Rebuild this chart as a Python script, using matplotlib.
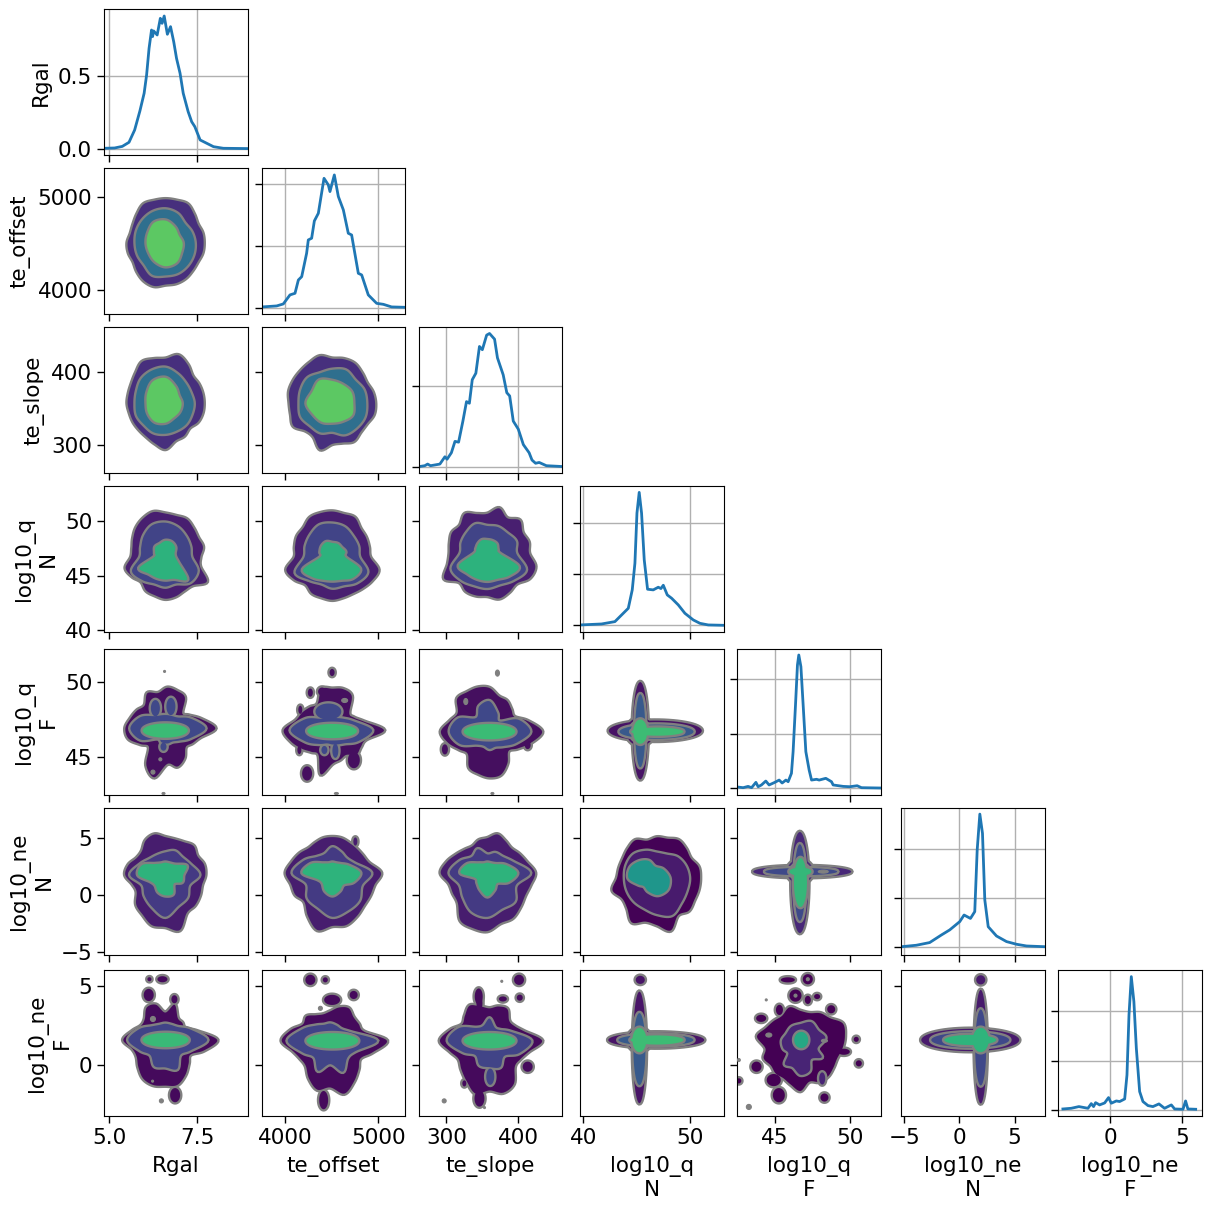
import numpy as np
import matplotlib
matplotlib.use('Agg')
import matplotlib.pyplot as plt

var_labels = ['Rgal', 'te_offset', 'te_slope', 'log10_q\nN', 'log10_q\nF', 'log10_ne\nN', 'log10_ne\nF']

# axis ranges and ticks per variable
x_limits = [(4.85, 8.94), (3749, 5287), (262, 460.7), (39.7, 53.15), (42.5, 52.1), (-5.3, 7.76), (-3.63, 6.37)]
y_limits = [None, (3743, 5308), (262, 462), (39.8, 53.26), (42.5, 52.2), (-5.29, 7.65), (-3.18, 6.0)]
x_ticks = [[5.0, 7.5], [4000, 5000], [300, 400], [40, 50], [45, 50], [-5, 0, 5], [0, 5]]
y_ticks = [[0.0, 0.5], [4000, 5000], [300, 400], [40, 45, 50], [45, 50], [-5, 0, 5], [0, 5]]
x_ticklabels = [['5.0', '7.5'], ['4000', '5000'], ['300', '400'], ['40', '50'], ['45', '50'], ['\u22125', '0', '5'], ['0', '5']]
y_ticklabels = [['0.0', '0.5'], ['4000', '5000'], ['300', '400'], ['40', '45', '50'], ['45', '50'], ['\u22125', '0', '5'], ['0', '5']]

# marginal densities on the diagonal
diag_ylim = [(-0.039, 0.961), (-0.046e-3, 1.131e-3), (-0.0007, 0.0173), (-0.0131, 0.2726), (-0.061, 1.278), (-0.033, 0.57), (-0.058, 1.417)]
diag_yticks = [[0, 0.5], [0, 0.0005, 0.001], [0, 0.01], [0, 0.1, 0.2], [0, 0.5, 1], [0, 0.2, 0.4], [0, 0.5, 1]]

rgal_x = [4.86, 5.15, 5.37, 5.56, 5.72, 5.87, 5.99, 6.06, 6.13, 6.2, 6.23, 6.26, 6.36, 6.45, 6.5, 6.56, 6.65, 6.74, 6.83, 6.91, 7.01, 7.1, 7.24, 7.34, 7.43, 7.58, 7.77, 7.96, 8.24, 8.94]
rgal_y = [.007, .009, .02, .048, .132, .263, .384, .509, .692, .817, .772, .811, .783, .897, .863, .913, .788, .84, .737, .623, .521, .384, .258, .189, .155, .064, .041, .018, .007, .005]
offset_x = [3749, 3907, 3978, 4050, 4104, 4140, 4176, 4229, 4247, 4283, 4312, 4355, 4384, 4416, 4462, 4480, 4527, 4570, 4624, 4677, 4713, 4785, 4821, 4892, 4982, 5054, 5143, 5287]
offset_y = [.011e-3, .019e-3, .035e-3, .108e-3, .121e-3, .228e-3, .255e-3, .444e-3, .551e-3, .565e-3, .704e-3, .766e-3, .901e-3, 1.048e-3, .995e-3, .941e-3, 1.075e-3, .901e-3, .793e-3, .605e-3, .591e-3, .282e-3, .269e-3, .108e-3, .04e-3, .032e-3, .011e-3, .008e-3]
slope_x = [263, 270, 274, 278, 291, 298, 301, 307, 312, 317, 323, 328, 332, 336, 341, 346, 350, 356, 360, 367, 371, 379, 384, 388, 393, 400, 407, 415, 419, 424, 429, 439, 460.7]
slope_y = [.0001, .0002, .0004, .0002, .0004, .0013, .001, .0018, .0032, .0031, .0057, .0081, .0079, .0108, .0116, .0149, .0145, .0163, .0165, .0158, .0135, .0114, .0092, .0088, .0057, .0047, .0028, .0018, .0009, .0005, .0006, .0002, .0001]
qn_x = [39.7, 41.71, 42.96, 43.74, 44.21, 44.58, 44.83, 45.02, 45.23, 45.45, 45.7, 46.01, 46.54, 47.01, 47.26, 47.48, 47.85, 48.26, 48.88, 49.5, 50.28, 50.9, 51.68, 53.15]
qn_y = [.0007, .0026, .0072, .0235, .0333, .0693, .1216, .2196, .2601, .2196, .1281, .0706, .0693, .0745, .0719, .0784, .0595, .0529, .0399, .0235, .0105, .0039, .0007, 0]
qf_x = [42.56, 42.91, 43.24, 43.47, 43.76, 43.91, 44.13, 44.42, 44.64, 45.02, 45.31, 45.51, 45.76, 45.91, 46.13, 46.24, 46.4, 46.53, 46.62, 46.76, 46.91, 47.09, 47.31, 47.47, 47.8, 47.98, 48.42, 48.8, 48.91, 49.58, 50.02, 50.51, 50.8, 52.1]
qf_y = [.012, .006, .018, .006, .055, .015, .031, .067, .031, .055, .076, .049, .076, .061, .138, .336, .765, 1.131, 1.223, 1.116, .765, .336, .168, .076, .083, .076, .092, .061, .031, .018, .015, .024, .006, .003]
nen_x = [-5.27, -3.91, -2.7, -1.64, -.88, .03, .42, 1, 1.39, 1.61, 1.85, 2.09, 2.3, 2.61, 3.36, 4.27, 5.18, 6.09, 7.76]
nen_y = [.001, .007, .018, .049, .07, .104, .131, .117, .145, .398, .545, .466, .193, .083, .045, .022, .011, .004, .001]
nef_x = [-3.29, -2.71, -2.18, -1.55, -1.32, -1.16, -1.02, -.74, -.39, -.12, .07, .42, .65, 1, 1.16, 1.3, 1.46, 1.64, 1.81, 2.04, 2.27, 2.62, 2.96, 3.38, 3.77, 4.24, 4.47, 5.05, 5.23, 5.39, 5.93]
nef_y = [.013, .02, .037, .02, .067, .037, .077, .054, .074, .128, .071, .094, .088, .114, .357, .963, 1.35, 1.098, .626, .189, .088, .047, .037, .064, .02, .054, .013, .01, .094, .013, .01]
diag_x = [rgal_x, offset_x, slope_x, qn_x, qf_x, nen_x, nef_x]
diag_y = [rgal_y, offset_y, slope_y, qn_y, qf_y, nen_y, nef_y]

# contour outlines: centre x, centre y, radii going round from east, counter clockwise
# radii are in 1/144 of the axis range
contours = {
    (1, 0): [(6.6, 4505, [38, 38, 37, 40, 44, 43, 43, 43, 44, 40, 37, 36, 38, 38, 37, 40, 43, 44, 41, 41, 40, 38, 37, 38]),
             (6.6, 4505, [29, 28, 27, 31, 33, 33, 32, 31, 30, 30, 30, 34, 32, 32, 31, 30]),
             (6.6, 4505, [17, 15, 18, 22, 23, 20, 19, 19, 21, 23, 22, 18])],
    (2, 0): [(6.6, 357.5, [38, 38, 38, 38, 44, 49, 44, 45, 47, 42, 39, 38, 38, 37, 37, 37, 38, 41, 45, 38, 37, 34, 37, 38]),
             (6.6, 357.5, [28, 27, 28, 31, 35, 35, 34, 31, 30, 31, 30, 31, 30, 29, 29, 28]),
             (6.6, 357.5, [16, 15, 19, 25, 25, 21, 19, 20, 21, 19, 16, 16])],
    (2, 1): [(4506, 357.5, [43, 42, 40, 42, 45, 45, 44, 48, 46, 45, 45, 45, 43, 43, 45, 38, 38, 47, 40, 40, 43, 40, 40, 43]),
             (4506, 357.5, [34, 34, 32, 35, 33, 32, 35, 34, 33, 34, 31, 31, 28, 33, 34, 35]),
             (4506, 357.5, [21, 22, 21, 22, 26, 23, 26, 22, 21, 19, 20, 23])],
    (3, 0): [(6.59, 46.7, [35, 39, 38, 40, 43, 42, 43, 46, 44, 41, 37, 34, 34, 41, 38, 34, 38, 39, 41, 40, 38, 39, 48, 36]),
             (6.59, 46.7, [26, 27, 29, 32, 34, 34, 30, 26, 25, 36, 32, 28, 29, 28, 35, 35]),
             (6.59, 46.7, [10, 10, 14, 16, 16, 14, 14, 11, 11, 28, 23, 22, 22, 23, 31, 14])],
    (3, 1): [(4506, 46.7, [38, 38, 39, 40, 45, 44, 45, 45, 45, 41, 41, 39, 38, 48, 44, 38, 41, 41, 42, 41, 41, 43, 46, 48]),
             (4506, 46.7, [27, 28, 29, 32, 33, 34, 31, 29, 28, 40, 32, 28, 30, 30, 35, 38]),
             (4506, 46.7, [13, 14, 13, 14, 14, 16, 15, 13, 12, 32, 28, 24, 23, 24, 29, 30])],
    (3, 2): [(357, 47.05, [42, 43, 41, 46, 40, 46, 39, 40, 45, 39, 41, 39, 38, 41, 50, 40, 43, 43, 42, 46, 44, 42, 49, 50]),
             (357, 47.05, [29, 31, 28, 28, 27, 31, 29, 28, 27, 39, 37, 34, 34, 33, 37, 42]),
             (357, 47.05, [12, 11, 13, 13, 13, 14, 13, 12, 13, 31, 28, 27, 27, 27, 31, 34])],
    (4, 0): [(6.65, 46.93, [48, 35, 25, 21, 35, 38, 40, 36, 40, 32, 35, 38, 42, 40, 31, 26, 42, 50, 35, 39, 34, 26, 29, 34]),
             (6.65, 46.93, [38, 25, 15, 13, 13, 14, 17, 29, 37, 29, 14, 15, 15, 14, 17, 25])],
    (4, 1): [(4506, 46.8, [52, 33, 25, 24, 39, 42, 41, 42, 30, 32, 35, 38, 49, 43, 36, 30, 28, 45, 33, 30, 28, 34, 33, 35]),
             (4506, 46.8, [40, 23, 16, 13, 12, 13, 16, 29, 42, 29, 19, 14, 14, 15, 18, 28])],
    (4, 2): [(360, 46.71, [53, 40, 29, 31, 35, 36, 43, 45, 45, 46, 37, 41, 49, 43, 35, 31, 41, 43, 45, 44, 36, 27, 33, 43]),
             (360, 46.71, [41, 31, 14, 20, 30, 27, 19, 34, 40, 32, 18, 15, 17, 16, 20, 29])],
    (5, 0): [(6.59, 1.76, [40, 40, 37, 40, 37, 36, 37, 41, 39, 33, 33, 38, 40, 34, 33, 41, 45, 51, 51, 56, 43, 42, 40, 38]),
             (6.59, 1.76, [34, 27, 24, 25, 22, 21, 22, 27, 35, 25, 29, 34, 41, 33, 31, 26]),
             (6.59, 1.76, [18, 23, 14, 12, 12, 12, 15, 25, 27, 16, 14, 18, 20, 20, 12, 18])],
    (5, 1): [(4506, 1.94, [49, 38, 35, 34, 34, 35, 35, 35, 34, 34, 38, 42, 47, 43, 43, 40, 49, 58, 52, 53, 49, 45, 44, 44]),
             (4506, 1.94, [39, 24, 20, 22, 25, 20, 22, 31, 40, 28, 35, 37, 43, 40, 38, 32]),
             (4506, 1.94, [28, 18, 12, 10, 10, 10, 13, 23, 30, 16, 14, 19, 22, 19, 16, 23])],
    (5, 2): [(357, 1.94, [48, 41, 37, 34, 36, 39, 34, 33, 30, 32, 36, 42, 47, 40, 40, 42, 54, 56, 57, 51, 51, 47, 44, 45]),
             (357, 1.94, [43, 28, 22, 21, 18, 25, 22, 30, 38, 30, 34, 41, 43, 38, 39, 31]),
             (357, 1.94, [30, 20, 12, 10, 10, 10, 13, 22, 27, 13, 14, 18, 23, 18, 14, 23])],
    (5, 3): [(46.89, 1.47, [43, 43, 39, 41, 43, 40, 40, 38, 43, 41, 39, 39, 40, 46, 40, 42, 50, 44, 46, 53, 42, 45, 43, 43]),
             (46.89, 1.47, [32, 31, 29, 25, 25, 29, 33, 33, 32, 32, 32, 32, 35, 39, 34, 32]),
             (46.1, 1.47, [21, 17, 13, 17, 19, 21, 20, 12, 9, 13, 19, 22])],
    (6, 0): [(6.59, 1.6, [52, 33, 23, 24, 25, 36, 27, 36, 37, 29, 28, 34, 42, 34, 33, 38, 44, 46, 45, 46, 40, 33, 29, 40]),
             (6.59, 1.6, [42, 27, 18, 16, 16, 16, 19, 28, 37, 27, 21, 28, 27, 31, 21, 27])],
    (6, 1): [(4484, 1.55, [57, 35, 33, 33, 37, 34, 29, 27, 29, 34, 32, 41, 49, 39, 35, 35, 43, 50, 46, 54, 47, 40, 35, 44]),
             (4484, 1.55, [47, 22, 16, 16, 17, 17, 21, 30, 43, 30, 23, 32, 23, 33, 24, 27])],
    (6, 2): [(360, 1.55, [53, 36, 29, 28, 36, 35, 32, 35, 40, 35, 32, 41, 50, 41, 36, 40, 46, 54, 49, 53, 49, 36, 36, 41]),
             (360, 1.55, [42, 23, 15, 14, 22, 16, 18, 33, 42, 29, 20, 26, 26, 28, 21, 32])],
    (6, 4): [(46.73, 1.07, [42, 46, 49, 42, 40, 36, 37, 42, 37, 38, 40, 45, 35, 38, 34, 35, 34, 37, 42, 34, 38, 39, 38, 38]),
             (46.73, 1.07, [17, 27, 25, 28, 24, 23, 20, 20, 17, 13, 22, 20, 26, 24, 15, 23])],
}

# extra elliptical pieces of a contour: x, y, half width, half height, level (3 is a grey dot)
pieces = {
    (4, 0): [(6.57, 50.71, 1, 1, 3), (6.54, 42.6, 1.5, 1, 3), (6.45, 44.87, 1.5, 1.5, 3), (6.24, 44.02, 2, 2, 3),
             (6.31, 48.27, 4.5, 8, 1), (6.75, 48.38, 4.5, 8.5, 1), (6.54, 45.71, 3, 4, 1), (6.59, 46.78, 22.5, 7, 2)],
    (4, 1): [(4503, 50.64, 2.5, 3.5, 0), (4234, 43.93, 5, 7, 0), (4549, 42.6, 2, 1, 3), (4269, 49.3, 2.5, 4, 0),
             (4395, 49.37, 4, 4, 0), (4161, 48.16, 2, 4, 0), (4151, 45.49, 2, 4, 0), (4737, 44.82, 6, 8, 0),
             (4638, 48.78, 3, 2, 3), (4463, 48.04, 13, 8, 1), (4538, 45.44, 3, 7, 1), (4420, 45.49, 3, 4, 1),
             (4503, 46.75, 25, 7, 2)],
    (4, 2): [(371, 50.6, 2, 3, 3), (327, 48.71, 2, 3, 3), (298, 45.53, 3, 5, 0), (364, 42.6, 1.5, 1, 3), (413, 45.82, 3, 4, 0),
             (360, 46.71, 26, 7.5, 2)],
    (4, 3): [(46.73, 46.77, 46.5, 10, 0), (45.33, 46.77, 7.5, 48, 0), (45.33, 46.71, 14, 14, 0),
             (46.85, 46.71, 37, 7, 1), (45.33, 46.77, 5, 36, 1), (45.33, 46.71, 10, 10, 1),
             (46.92, 46.71, 26, 4, 2), (45.33, 46.71, 7, 12, 2)],
    (5, 1): [(4753, 4.7, 2, 4, 0)],
    (5, 4): [(46.85, 2.05, 49, 5.5, 0), (46.69, 1.09, 8.5, 49.5, 0), (46.7, 2.05, 13, 12, 0),
             (46.78, 2.05, 36, 3.5, 1), (46.69, 1.09, 5.5, 37.5, 1), (46.7, 2.05, 9, 8, 1),
             (46.73, 1.09, 6.5, 24, 2), (46.73, 2.05, 11, 4, 2), (48.25, 2.05, 5, 1.5, 3)],
    (6, 0): [(6.51, 5.42, 5, 3, 0), (6.14, 5.42, 2, 2, 0), (6.12, 4.43, 5, 6, 0), (6.85, 4.16, 3, 4, 0), (6.24, 2.92, 2.5, 2.5, 3),
             (6.87, -1.87, 5, 7, 0), (6.48, -2.23, 2, 2, 3), (6.23, -0.99, 1, 1, 3), (6.6, 1.6, 23, 7, 2)],
    (6, 1): [(4412, -2.18, 4.5, 9, 0), (4269, 5.38, 5, 5, 0), (4430, 5.38, 2.5, 2.5, 0), (4503, 4.12, 8, 5, 0), (4377, 3.59, 2, 2, 3),
             (4735, 4.43, 4, 4, 0), (4506, 1.55, 26, 7.5, 2)],
    (6, 2): [(361, -0.71, 4, 8, 1), (401, 5.38, 5, 5, 0), (377, 5.29, 1, 1, 3), (402, 4.26, 3, 3, 0), (378.5, 4.18, 4, 2.5, 0),
             (345, 4.33, 4, 8, 0), (346, 3.9, 3, 8, 0), (413, -0.08, 5, 5, 0), (325, -1.13, 2, 3, 0), (297, -2.23, 2, 2, 3),
             (353, -2.65, 1, 1, 3), (346, -2.08, 5, 8, 0), (360, 1.55, 26, 7.5, 2)],
    (6, 3): [(46.82, 1.6, 48, 7.5, 0), (45.25, 1.13, 6.5, 55, 0), (45.25, 1.6, 12, 12, 0), (45.33, 5.38, 4.5, 4, 0),
             (46.79, 1.6, 37.5, 5.5, 1), (45.25, 1.03, 6, 35.5, 1), (45.25, 1.6, 9, 9, 1),
             (46.89, 1.6, 26.5, 4.5, 2), (45.25, 1.6, 7, 12, 2)],
    (6, 4): [(45.89, 5.38, 7, 2.5, 0), (47.22, 5.42, 5, 5, 0), (47.22, 5.42, 1.5, 1.5, 3), (46.4, 4.39, 6, 6, 0), (46.4, 4.39, 1.5, 1.5, 3),
             (47.22, 4.12, 3, 4, 0), (47.84, 4.33, 3, 2.5, 0), (44.45, 4.12, 1, 1, 3), (45.33, 3.49, 3.5, 5, 0), (44.11, 2.96, 5, 3.5, 0),
             (48.78, 3.53, 4, 4, 0), (50.45, 1.64, 2.5, 2.5, 0), (49.62, 0.86, 6, 3, 0), (50.62, 0.13, 3, 3, 0), (43.8, -0.08, 5, 5, 0),
             (42.62, -0.97, 2.5, 2.5, 0), (42.62, 0.34, 1.5, 1.5, 3), (45.29, -1.87, 6, 7, 0), (48.33, -2.02, 4, 4, 0), (43.29, -2.61, 2.5, 2.5, 3),
             (44.95, -0.92, 7, 6, 0), (48.18, -0.82, 3, 6, 1), (44.62, 1.91, 3, 2, 3), (48.33, 1.55, 3, 1.5, 3),
             (46.78, 1.6, 7, 8, 2)],
    (6, 5): [(.98, 1.6, 49, 11, 0), (1.93, 1.18, 6, 56, 0), (1.93, 1.6, 12, 13, 0), (1.93, 5.38, 4.5, 4.5, 0),
             (.98, 1.6, 39, 7.5, 1), (1.93, 1.13, 5.5, 37.5, 1), (1.93, 1.6, 9, 11, 1),
             (.98, 1.6, 26, 5, 2), (1.93, 1.6, 8, 12, 2)],
}

level_colors = {
    (1, 0): ['#472f7d', '#2f6f8e', '#5cc863'], (2, 0): ['#472f7d', '#2f6f8e', '#5cc863'], (2, 1): ['#472f7d', '#2f6f8e', '#5cc863'],
    (3, 0): ['#481f70', '#414487', '#2db27d'], (3, 1): ['#481f70', '#414487', '#2db27d'], (3, 2): ['#481f70', '#414487', '#2db27d'],
    (4, 0): ['#450f5f', '#3f4889', '#3bbb75'], (4, 1): ['#450f5f', '#3f4889', '#3bbb75'], (4, 2): ['#450f5f', '#3f4889', '#3bbb75'],
    (4, 3): ['#471365', '#38598c', '#3dbc74'],
    (5, 0): ['#471d6e', '#443a83', '#2eb37c'], (5, 1): ['#471d6e', '#443a83', '#2eb37c'], (5, 2): ['#471d6e', '#443a83', '#2eb37c'],
    (5, 3): ['#440256', '#481b6d', '#1f968b'], (5, 4): ['#482878', '#3e4989', '#35b779'],
    (6, 0): ['#450a5c', '#414487', '#3ab977'], (6, 1): ['#450a5c', '#414487', '#3ab977'], (6, 2): ['#450a5c', '#414487', '#3ab977'],
    (6, 3): ['#481467', '#375a8c', '#3dbc74'], (6, 4): ['#440154', '#482475', '#26a884'], (6, 5): ['#481a6c', '#3f4889', '#2fb47c'],
}

# pixel boxes of the panels
col_box = [(104, 248), (262, 405), (419, 562), (580, 724), (737, 881), (901, 1045), (1058, 1202)]
row_box = [(9, 155), (168, 314), (327, 473), (486, 632), (649, 795), (808, 955), (970, 1116)]
SIZE = 1211


def smooth_closed(x, y, n=8):
    # closed Catmull-Rom through the outline points
    p = np.column_stack([x, y])
    p0, p1, p2, p3 = np.roll(p, 1, axis=0), p, np.roll(p, -1, axis=0), np.roll(p, -2, axis=0)
    out = []
    for t in np.linspace(0, 1, n, endpoint=False):
        out.append(0.5 * (2 * p1 + (p2 - p0) * t + (2 * p0 - 5 * p1 + 4 * p2 - p3) * t ** 2
                          + (3 * p1 - p0 - 3 * p2 + p3) * t ** 3))
    out = np.stack(out, axis=1).reshape(-1, 2)
    return out[:, 0], out[:, 1]


def outline(ax, cx, cy, radii):
    ux = np.diff(ax.get_xlim())[0] / 144
    uy = np.diff(ax.get_ylim())[0] / 144
    theta = np.linspace(0, 2 * np.pi, len(radii), endpoint=False)
    radii = np.asarray(radii, dtype=float)
    return smooth_closed(cx + radii * np.cos(theta) * ux, cy + radii * np.sin(theta) * uy)


def ellipse(ax, x, y, rx, ry):
    ux = np.diff(ax.get_xlim())[0] / 144
    uy = np.diff(ax.get_ylim())[0] / 144
    theta = np.linspace(0, 2 * np.pi, 60)
    return x + rx * ux * np.cos(theta), y + ry * uy * np.sin(theta)


def draw_panel(ax, key):
    levels = [[], [], []]
    for i, (cx, cy, radii) in enumerate(contours.get(key, [])):
        levels[i].append(outline(ax, cx, cy, radii))
    dots = []
    for x, y, rx, ry, level in pieces.get(key, []):
        if level == 3:
            dots.append(ellipse(ax, x, y, rx, ry))
        else:
            levels[level].append(ellipse(ax, x, y, rx, ry))
    for i, shapes in enumerate(levels):
        # stroke everything first so that joined pieces show a single outline
        for sx, sy in shapes:
            ax.fill(sx, sy, facecolor='none', edgecolor='#808080', linewidth=3.4, zorder=2 + i)
        for sx, sy in shapes:
            ax.fill(sx, sy, facecolor=level_colors[key][i], edgecolor='none', zorder=2 + i + 0.5)
    for sx, sy in dots:
        ax.fill(sx, sy, facecolor='#808080', edgecolor='#808080', linewidth=0.8, zorder=6)


plt.rcParams['font.size'] = 15.5
fig = plt.figure(figsize=(SIZE / 100, SIZE / 100), dpi=100)

for r in range(7):
    for c in range(r + 1):
        x0, x1 = col_box[c]
        y0, y1 = row_box[r]
        ax = fig.add_axes([x0 / SIZE, 1 - y1 / SIZE, (x1 - x0) / SIZE, (y1 - y0) / SIZE])
        ax.set_xlim(x_limits[c])
        if r == c:
            ax.set_ylim(diag_ylim[r])
            ax.plot(diag_x[r], diag_y[r], color='C0', linewidth=2)
            ax.grid(True, color='#b0b0b0', linewidth=1)
            ax.set_axisbelow(True)
            ax.set_yticks(diag_yticks[r])
            if r == 0:
                ax.set_yticks(y_ticks[0])
                ax.set_yticklabels(y_ticklabels[0])
            else:
                ax.set_yticklabels([])
        else:
            ax.set_ylim(y_limits[r])
            draw_panel(ax, (r, c))
            ax.set_yticks(y_ticks[r])
            if c == 0:
                ax.set_yticklabels(y_ticklabels[r])
            else:
                ax.set_yticklabels([])
        ax.set_xticks(x_ticks[c])
        if r == 6:
            ax.set_xticklabels(x_ticklabels[c])
            ax.set_xlabel(var_labels[c], fontsize=15.5, labelpad=6)
        else:
            ax.set_xticklabels([])
        if c == 0:
            ax.set_ylabel(var_labels[r], fontsize=15.5, labelpad=5)
        ax.tick_params(labelsize=15.5, length=5, width=1)

fig.savefig('out.png', dpi=100)
